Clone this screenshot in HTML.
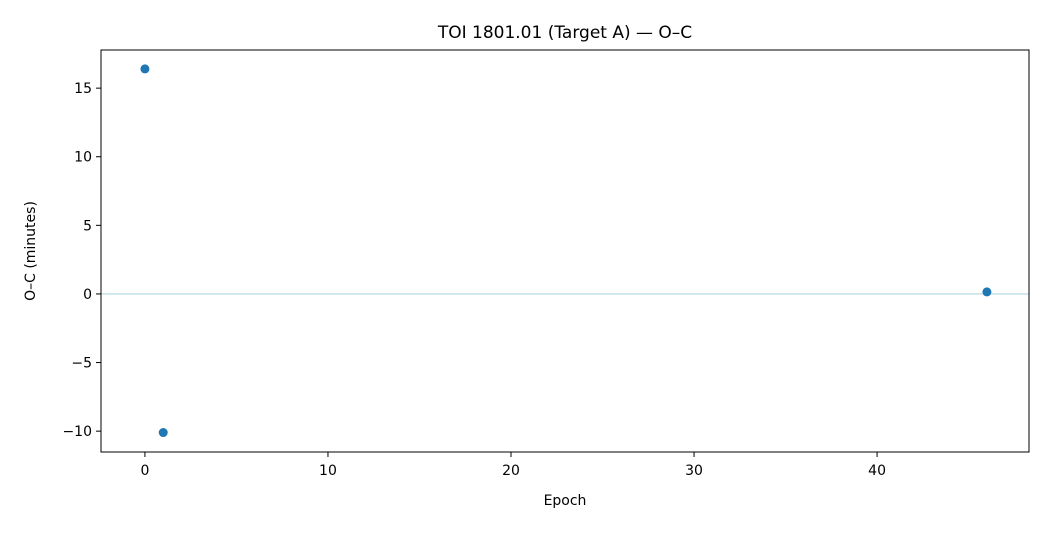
<!DOCTYPE html>
<html><head><meta charset="utf-8"><style>
body{margin:0;background:#fff;font-family:"Liberation Sans","DejaVu Sans",sans-serif;}
svg text{font-family:"DejaVu Sans","Liberation Sans",sans-serif;}
</style></head><body>
<svg id="chart" width="1050" height="532" xmlns="http://www.w3.org/2000/svg">
<rect width="1050" height="532" fill="#fff"/>
<g id="g"></g>
</svg>
<script>
const epochs=[0,1,46];
const ocValues=[16.4,-10.1,0.15];
const xTicks=[0,10,20,30,40];
const yTicks=[-10,-5,0,5,10,15];
const L=101,R=1029,T=50,B=452,xmin=-2.4,xmax=48.3,ymin=-11.52,ymax=17.78;
const X=v=>L+(v-xmin)/(xmax-xmin)*(R-L);
const Y=v=>B-(v-ymin)/(ymax-ymin)*(B-T);
const g=document.getElementById('g');
const NS='http://www.w3.org/2000/svg';
function mk(t,a,txt){const e=document.createElementNS(NS,t);for(const k in a)e.setAttribute(k,a[k]);if(txt!==undefined)e.textContent=txt;g.appendChild(e);return e;}
let e;
e=mk('line',{x1:L,x2:R,y1:Y(0),y2:Y(0),stroke:'#add8e6','stroke-width':1.2});


xTicks.forEach(v=>{
 e=mk('line',{x1:X(v),x2:X(v),y1:B,y2:B+5,stroke:'#000','stroke-width':1});
 
 
 e=mk('text',{x:X(v),y:B+23,'text-anchor':'middle','font-size':14},String(v));
 
 
});
yTicks.forEach(v=>{
 e=mk('line',{x1:L-5,x2:L,y1:Y(v),y2:Y(v),stroke:'#000','stroke-width':1});
 
 
 e=mk('text',{x:L-9,y:Y(v)+5,'text-anchor':'end','font-size':14},v<0?'\u2212'+Math.abs(v):String(v));
 
 
});
epochs.forEach((v,i)=>{
 e=mk('circle',{cx:X(v),cy:Y(ocValues[i]),r:4.5,fill:'#1f77b4'});
 
 
});
e=mk('rect',{x:L,y:T,width:R-L,height:B-T,fill:'none',stroke:'#000','stroke-width':1});


e=mk('text',{x:(L+R)/2,y:38,'text-anchor':'middle','font-size':17},'TOI 1801.01 (Target A) \u2014 O\u2013C');


e=mk('text',{x:(L+R)/2,y:505,'text-anchor':'middle','font-size':14},'Epoch');


e=mk('text',{x:35,y:(T+B)/2,'text-anchor':'middle','font-size':14,transform:'rotate(-90 35 '+((T+B)/2)+')'},'O\u2013C (minutes)');


</script>
</body></html>
